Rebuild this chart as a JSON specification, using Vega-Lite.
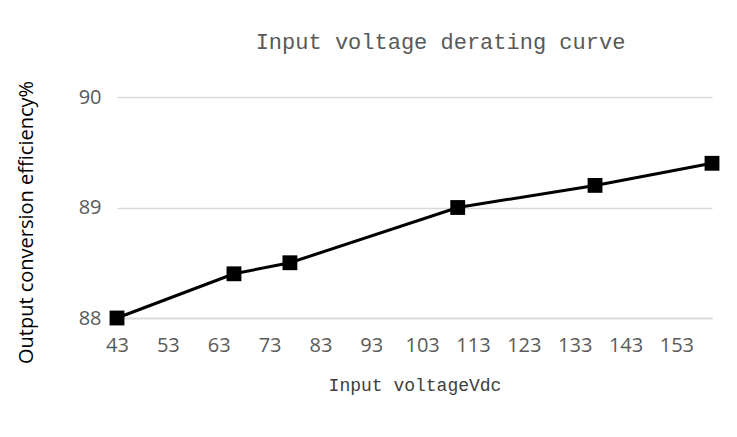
{
  "$schema": "https://vega.github.io/schema/vega-lite/v6.json",
  "width": 595,
  "height": 221,
  "autosize": {"type": "none"},
  "padding": {"left": 117, "top": 97, "right": 25, "bottom": 119},
  "background": "white",
  "title": {
    "text": "Input voltage derating curve",
    "font": "Liberation Mono",
    "fontSize": 22,
    "fontWeight": "normal",
    "color": "#595959",
    "anchor": "middle",
    "dx": 26,
    "offset": 26
  },
  "data": {
    "values": [
      {"voltage": 43, "efficiency": 88.0},
      {"voltage": 66, "efficiency": 88.4},
      {"voltage": 77, "efficiency": 88.5},
      {"voltage": 110, "efficiency": 89.0},
      {"voltage": 137, "efficiency": 89.2},
      {"voltage": 160, "efficiency": 89.4}
    ]
  },
  "config": {
    "view": {"stroke": null}
  },
  "encoding": {
    "x": {
      "field": "voltage",
      "type": "quantitative",
      "scale": {"domain": [43, 160], "nice": false, "zero": false},
      "axis": {
        "values": [43, 53, 63, 73, 83, 93, 103, 113, 123, 133, 143, 153],
        "format": ".0f",
        "labelFlush": false,
        "labelOverlap": false,
        "title": "Input voltageVdc",
        "titleFont": "Liberation Mono",
        "titleFontSize": 18,
        "titleFontWeight": "normal",
        "titleColor": "#404040",
        "titlePadding": 21,
        "labelFont": "Open Sans",
        "labelFontSize": 20,
        "labelColor": "#595959",
        "labelPadding": 17,
        "ticks": false,
        "grid": false,
        "domainColor": "#d9d9d9",
        "domainWidth": 1.5
      }
    },
    "y": {
      "field": "efficiency",
      "type": "quantitative",
      "scale": {"domain": [88, 90], "nice": false, "zero": false},
      "axis": {
        "values": [88, 89, 90],
        "format": ".0f",
        "labelOverlap": false,
        "labelFlush": false,
        "title": "Output conversion efficiency%",
        "titleFont": "Open Sans",
        "titleFontSize": 20,
        "titleFontWeight": "normal",
        "titleColor": "#000000",
        "titlePadding": 42,
        "titleY": 125,
        "labelFont": "Open Sans",
        "labelFontSize": 20,
        "labelColor": "#595959",
        "labelPadding": 16,
        "ticks": false,
        "domain": false,
        "gridColor": "#d9d9d9",
        "gridWidth": 1.5
      }
    }
  },
  "layer": [
    {"mark": {"type": "line", "color": "#000000", "strokeWidth": 3}},
    {"mark": {"type": "point", "shape": "square", "filled": true, "color": "#000000", "size": 220, "opacity": 1}}
  ]
}
